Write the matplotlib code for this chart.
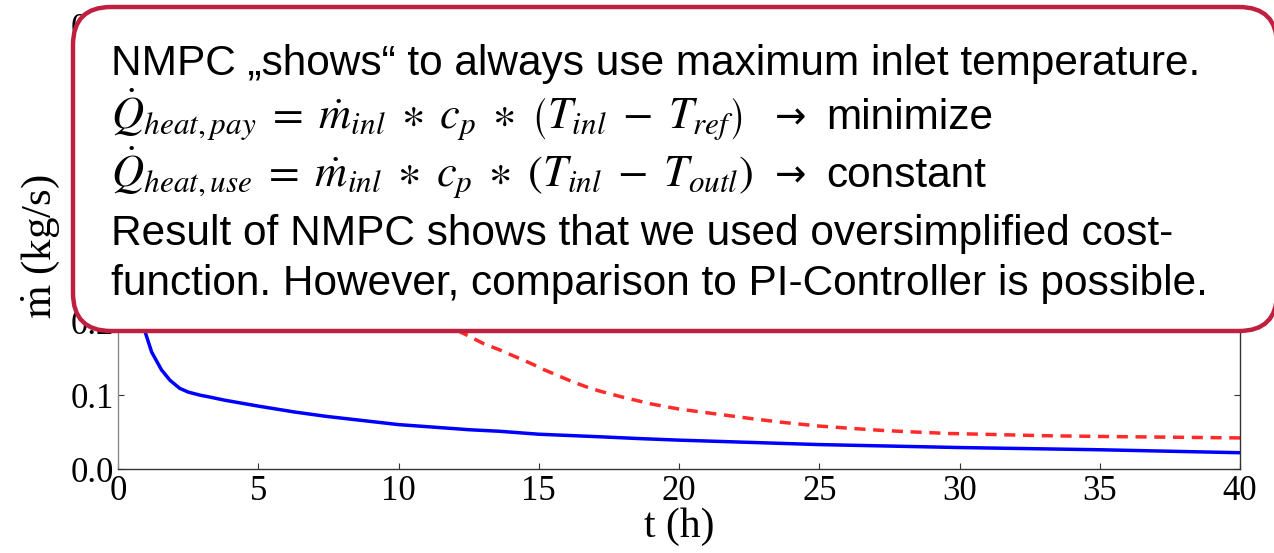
import matplotlib
matplotlib.use("Agg")
import matplotlib.pyplot as plt
from matplotlib.patches import FancyBboxPatch

# mass flow over time, two controllers
t_nmpc = [0, 0.25, 0.5, 0.75, 0.96, 1.2, 1.55, 1.85, 2.2, 2.5, 2.9, 3.3, 3.8,
          4.4, 5, 6.3, 7.45, 10, 12.55, 13.6, 15, 17.2, 18.65, 20, 25, 30,
          35, 40]
m_nmpc = [0.58, 0.42, 0.31, 0.23, 0.186, 0.158, 0.134, 0.120, 0.109, 0.104,
          0.100, 0.097, 0.093, 0.089, 0.085, 0.077, 0.071, 0.060, 0.053,
          0.051, 0.047, 0.0435, 0.041, 0.039, 0.033, 0.029, 0.026, 0.022]

t_pi = [0, 2, 4, 6, 8, 10, 12.49, 13.0, 13.6, 14.15, 14.7, 15.2, 15.76, 16.2,
        16.7, 17.2, 18.0, 19.0, 20, 21.4, 22.6, 23.7, 25, 26.1, 27.3, 28.4,
        29.6, 30.8, 33, 35, 37.5, 40]
m_pi = [0.50, 0.44, 0.38, 0.32, 0.27, 0.225, 0.180, 0.170, 0.161, 0.152,
        0.143, 0.134, 0.125, 0.118, 0.111, 0.105, 0.097, 0.088, 0.081, 0.074,
        0.068, 0.063, 0.058, 0.055, 0.052, 0.050, 0.048, 0.047, 0.045, 0.044,
        0.043, 0.042]

x_ticks = [0, 5, 10, 15, 20, 25, 30, 35, 40]
y_ticks = [0.0, 0.1, 0.2, 0.3, 0.4, 0.5, 0.6]

note_lines = [
    "NMPC \u201eshows\u201c to always use maximum inlet temperature.",
    r"$\dot{Q}_{heat,pay}\;=\;\dot{m}_{inl}\;\ast\;c_p\;\ast\;\left(T_{inl}\;-\;T_{ref}\right)$",
    r"$\dot{Q}_{heat,use}\;=\;\dot{m}_{inl}\;\ast\;c_p\;\ast\;(T_{inl}\;-\;T_{outl})$",
    "Result of NMPC shows that we used oversimplified cost-",
    "function. However, comparison to PI-Controller is possible.",
]
note_tails = ["", "minimize", "constant", "", ""]

plt.rcParams["mathtext.fontset"] = "stix"
W, H = 1274, 553
fig = plt.figure(figsize=(W / 100, H / 100), dpi=100)
fig.patch.set_facecolor("white")

serif = ["Liberation Serif", "DejaVu Serif"]
ax = fig.add_axes([118 / W, 1 - 469 / H, (1240 - 118) / W, 444 / H])
ax.plot(t_nmpc, m_nmpc, color="#0000ff", lw=2.5)
ax.plot(t_pi, m_pi, color="#ff2a2a", lw=2.5, ls=(0, (3.2, 2.2)))
ax.set_xlim(0, 40)
ax.set_ylim(0, 0.6)
ax.set_xticks(x_ticks)
ax.set_yticks(y_ticks)
ax.set_xticklabels([str(v) for v in x_ticks], family=serif, fontsize=25)
ax.set_yticklabels([f"{v:.1f}" for v in y_ticks], family=serif, fontsize=25)
ax.tick_params(direction="in", length=4, width=0.8, top=True, right=True,
               color="#333333")
ax.tick_params(axis="x", pad=4)
ax.tick_params(axis="y", pad=3)
for side in ["top", "right", "bottom"]:
    ax.spines[side].set_color("#333333")
ax.spines["left"].set_color("#8a8a8a")
for sp in ax.spines.values():
    sp.set_linewidth(1.0)
ax.set_xlabel("t (h)", family=serif, fontsize=30, labelpad=0)
ax.set_ylabel(r"$\dot{\mathrm{m}}$ (kg/s)", family=serif, fontsize=31)
ax.yaxis.set_label_coords(-0.05, 0.5)

# callout box on top of the plot, laid out in pixel units
note = fig.add_axes([0, 0, 1, 1])
note.set_xlim(0, W)
note.set_ylim(H, 0)
note.axis("off")
note.add_patch(FancyBboxPatch((73, 7), 1277 - 73, 331 - 7,
                              boxstyle="round,pad=0,rounding_size=38",
                              facecolor="white", edgecolor="#c0203f", lw=3.2))

sans = ["Liberation Sans", "DejaVu Sans"]
baselines = [75, 129, 187, 245, 295]
for line, tail, yb in zip(note_lines, note_tails, baselines):
    size = 32 if line.startswith("$") else 30.5
    note.text(111, yb, line, family=sans, fontsize=size, va="baseline",
              ha="left", color="black")
    if tail:
        note.text(775, yb - 11, "\u2192", family="DejaVu Sans", fontsize=27,
                  va="center", ha="left", color="black")
        note.text(826, yb, tail, family=sans, fontsize=30.5, va="baseline",
                  ha="left", color="black")

fig.savefig("out.png", dpi=100)
